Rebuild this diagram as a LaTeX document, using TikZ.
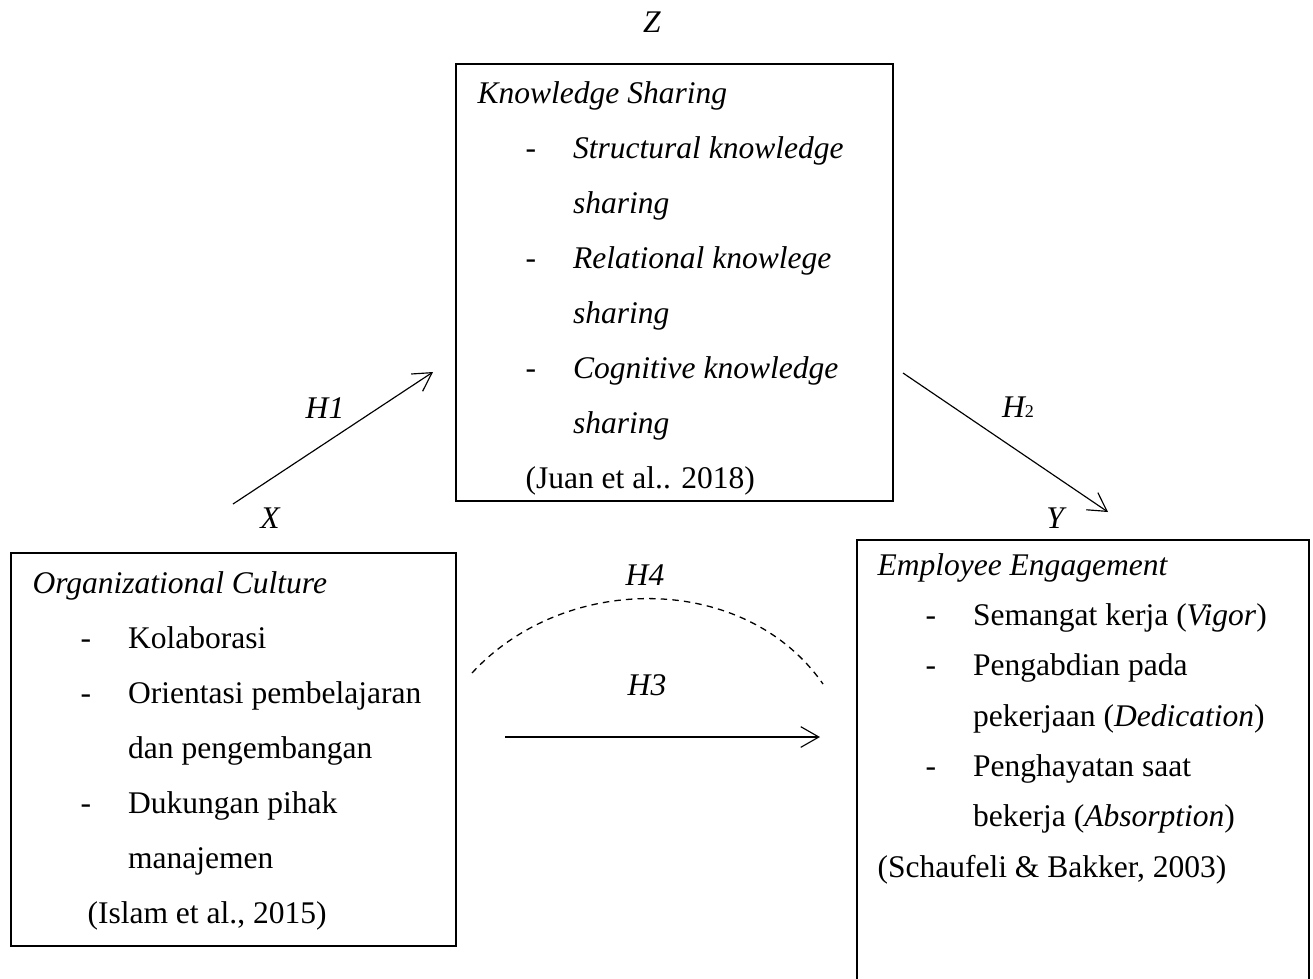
\documentclass[tikz,border=0pt]{standalone}
\usepackage{fontspec}
\setmainfont{Liberation Serif}
\usetikzlibrary{
    arrows.meta,
    positioning,
    calc
}
\newcommand{\dashitem}[1]{\hspace*{18.6pt}\makebox[18.4pt][l]{-}#1}
\newcommand{\dashcont}[1]{\hspace*{37pt}#1}

\begin{document}
\begin{tikzpicture}[
        x=0.387pt, y=-0.387pt,
        varbox/.style={rectangle, draw, line width=0.6pt, anchor=north west, inner sep=0pt},
        boxtext/.style={anchor=base west, inner sep=0pt},
        lbl/.style={font=\fontsize{12.2}{14}\selectfont\itshape, inner sep=0pt},
        arrow/.style={-{Straight Barb[length=7pt, width=8pt]}, line width=0.45pt}
    ]
        \useasboundingbox (0,0) rectangle (1313,978);
        \clip (0,0) rectangle (1313,978);

        % variable boxes
        \node[varbox, minimum width=169.1pt, minimum height=169.1pt] (ks) at (455,63) {};
        \node[varbox, minimum width=172.2pt, minimum height=152.1pt] (oc) at (10,552) {};
        \node[varbox, minimum width=174.9pt, minimum height=178pt] (ee) at (856,539) {};

        \node[boxtext] (kstext) at ([shift={(22,40)}]ks.north west) {\parbox[t]{200pt}{\fontsize{12.2}{21.3}\selectfont
            \textit{Knowledge Sharing}\\
            \dashitem{\textit{Structural knowledge}}\\
            \dashcont{\textit{sharing}}\\
            \dashitem{\textit{Relational knowlege}}\\
            \dashcont{\textit{sharing}}\\
            \dashitem{\textit{Cognitive knowledge}}\\
            \dashcont{\textit{sharing}}\\
            \hspace*{18.6pt}(Juan et al.. 2018)}};
        \node[boxtext] (octext) at ([shift={(22,41)}]oc.north west) {\parbox[t]{200pt}{\fontsize{12.2}{21.3}\selectfont
            \textit{Organizational Culture}\\
            \dashitem{Kolaborasi}\\
            \dashitem{Orientasi pembelajaran}\\
            \dashcont{dan pengembangan}\\
            \dashitem{Dukungan pihak}\\
            \dashcont{manajemen}\\
            \hspace*{21.3pt}(Islam et al., 2015)}};
        \node[boxtext] (eetext) at ([shift={(21,36)}]ee.north west) {\parbox[t]{200pt}{\fontsize{12.2}{19.5}\selectfont
            \textit{Employee Engagement}\\
            \dashitem{Semangat kerja (\textit{Vigor})}\\
            \dashitem{Pengabdian pada}\\
            \dashcont{pekerjaan (\textit{Dedication})}\\
            \dashitem{Penghayatan saat}\\
            \dashcont{bekerja (\textit{Absorption})}\\
            (Schaufeli \& Bakker, 2003)}};

        % variable letters
        \node[lbl] (zlab) at (652,22) {Z};
        \node[lbl] (xlab) at (270,518) {X};
        \node[lbl] (ylab) at (1055,518) {Y};

        % hypotheses
        \coordinate (h1a) at (233,504);
        \coordinate (h1b) at (433,372);
        \coordinate (h2a) at (903,373);
        \coordinate (h2b) at (1108,512);
        \coordinate (h3a) at (505,737);
        \coordinate (h3b) at (820,737);
        \coordinate (h4a) at (472,673);
        \coordinate (h4b) at (823,684);

        \draw[arrow] (h1a) -- (h1b);
        \draw[arrow] (h2a) -- (h2b);
        \draw[arrow] (h3a) -- (h3b);
        \draw[line width=0.5pt, dash pattern=on 2.5pt off 2pt] (h4a) .. controls (565,572) and (745,572) .. (h4b);

        \node[lbl] (h1lab) at (325,408) {H1};
        \node[lbl] (h2lab) at (1018,407) {H{\upshape\scriptsize 2}};
        \node[lbl] (h3lab) at (647,685) {H3};
        \node[lbl] (h4lab) at (645,575) {H4};
    \end{tikzpicture}
\end{document}
